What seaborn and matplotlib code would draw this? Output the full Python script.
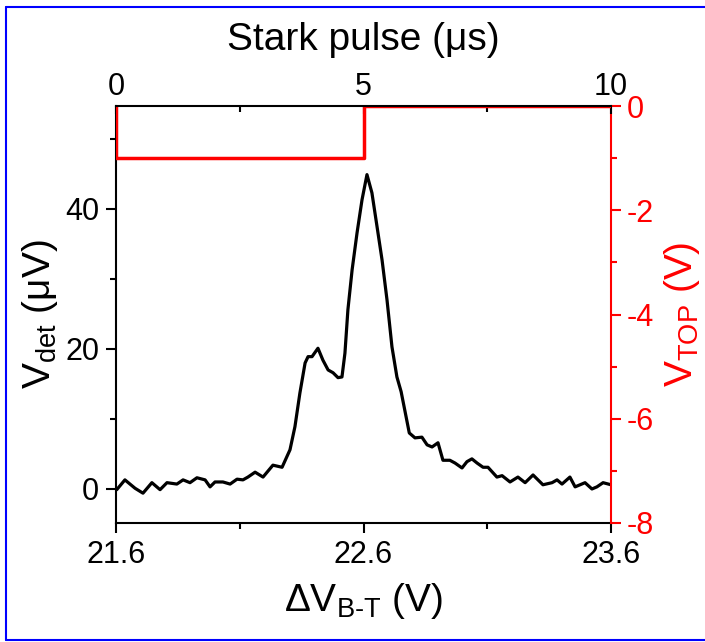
import matplotlib
matplotlib.use("Agg")
import matplotlib.pyplot as plt
from matplotlib.ticker import MultipleLocator, FixedLocator
from matplotlib.lines import Line2D
import seaborn as sns
import pandas as pd

# ---- data ----
bias_V = [21.603, 21.636, 21.677, 21.709, 21.745, 21.778, 21.806, 21.846, 21.871, 21.899,
          21.927, 21.960, 21.980, 22.000, 22.032, 22.061, 22.089, 22.113, 22.133, 22.162,
          22.194, 22.234, 22.271, 22.303, 22.323, 22.343, 22.364, 22.376, 22.392, 22.416,
          22.436, 22.457, 22.477, 22.497, 22.513, 22.525, 22.537, 22.554, 22.574, 22.594,
          22.614, 22.634, 22.655, 22.675, 22.695, 22.715, 22.735, 22.752, 22.766, 22.785,
          22.808, 22.836, 22.857, 22.877, 22.901, 22.921, 22.949, 22.970, 22.998, 23.018,
          23.038, 23.059, 23.083, 23.103, 23.139, 23.160, 23.192, 23.224, 23.253, 23.285,
          23.325, 23.362, 23.382, 23.402, 23.434, 23.455, 23.495, 23.523, 23.543, 23.568,
          23.600]
signal_uV = [-0.1, 1.3, 0.1, -0.6, 0.9, -0.1, 0.9, 0.7, 1.3, 0.9,
             1.6, 1.3, 0.3, 1.0, 1.0, 0.7, 1.4, 1.3, 1.7, 2.4,
             1.7, 3.4, 3.1, 5.6, 8.9, 13.7, 18.0, 18.9, 18.9, 20.1,
             18.4, 17.0, 16.6, 15.9, 16.0, 19.4, 25.6, 31.3, 36.6, 41.3,
             44.9, 42.3, 37.4, 32.7, 27.0, 20.3, 16.0, 13.9, 11.4, 8.0,
             7.3, 7.4, 6.3, 6.0, 6.6, 4.1, 4.1, 3.7, 3.0, 3.9,
             4.3, 3.7, 3.1, 3.1, 1.7, 1.9, 1.0, 1.7, 0.9, 2.0,
             0.6, 0.9, 1.3, 0.7, 1.7, 0.3, 0.9, 0.0, 0.3, 0.9,
             0.6]

pulse_time_us = [0, 0, 5, 5, 10]
pulse_V = [0, -1, -1, 0, 0]

bottom_ticks = [21.6, 22.6, 23.6]
bottom_minor = [22.1, 23.1]
left_ticks = [0, 20, 40]
right_ticks = [0, -2, -4, -6, -8]
top_ticks = [0, 5, 10]

sns.set_theme(style="ticks")
plt.rcParams["font.family"] = ["Liberation Sans", "DejaVu Sans"]
plt.rcParams["mathtext.fontset"] = "custom"
plt.rcParams["mathtext.rm"] = "Liberation Sans"
for k in ["text.color", "axes.labelcolor", "xtick.color", "ytick.color", "axes.edgecolor"]:
    plt.rcParams[k] = "black"

TICK = 22
LAB = 28

fig = plt.figure(figsize=(7.05, 6.42), dpi=100)
ax = fig.add_axes([116/705, 1-523/642, (611-116)/705, (523-106)/642])

df = pd.DataFrame({"x": bias_V, "y": signal_uV})
sns.lineplot(data=df, x="x", y="y", ax=ax, color="black", lw=2.3, sort=False, estimator=None)
ax.set_xlim(21.6, 23.6)
ax.set_ylim(-4.86, 54.7)
ax.xaxis.set_major_locator(FixedLocator(bottom_ticks))
ax.xaxis.set_minor_locator(FixedLocator(bottom_minor))
ax.yaxis.set_major_locator(FixedLocator(left_ticks))
ax.yaxis.set_minor_locator(MultipleLocator(10))
ax.set_xticklabels(["21.6", "22.6", "23.6"])
ax.set_xlabel("ΔV$\\mathregular{_{B\\text{-}T}}$ (V)", fontsize=LAB, labelpad=8)
ax.set_ylabel("V$\\mathregular{_{det}}$ (μV)", fontsize=LAB, labelpad=4)
ax.tick_params(axis="both", which="major", direction="out", length=7, width=1.5,
               labelsize=TICK, color="black", labelcolor="black", pad=5)
ax.tick_params(axis="both", which="minor", direction="out", length=4, width=1.5, color="black")
for s in ["left", "bottom"]:
    ax.spines[s].set_linewidth(1.5)
    ax.spines[s].set_color("black")
ax.spines["top"].set_visible(False)
ax.spines["right"].set_visible(False)

ax2 = ax.twinx()
ax2.set_ylim(-8, 0)
ax2.yaxis.set_major_locator(FixedLocator(right_ticks))
ax2.yaxis.set_minor_locator(MultipleLocator(1))
ax2.set_yticklabels(["0", "-2", "-4", "-6", "-8"])
ax2.tick_params(axis="y", which="major", direction="out", length=7, width=1.5,
                labelsize=TICK, colors="red", pad=4)
ax2.tick_params(axis="y", which="minor", direction="out", length=4, width=1.5, color="red")
ax2.set_ylabel("V$\\mathregular{_{TOP}}$ (V)", fontsize=LAB, color="red", labelpad=6)
ax2.spines["right"].set_color("red")
ax2.spines["right"].set_linewidth(1.5)
for s in ["top", "left", "bottom"]:
    ax2.spines[s].set_visible(False)

ax3 = ax2.twiny()
pdf = pd.DataFrame({"t": pulse_time_us, "v": pulse_V})
sns.lineplot(data=pdf, x="t", y="v", ax=ax3, color="red", lw=2.5, sort=False, estimator=None)
ax3.set_xlim(0, 10)
ax3.set_ylim(-8, 0)
ax3.xaxis.set_major_locator(FixedLocator(top_ticks))
ax3.xaxis.set_minor_locator(MultipleLocator(2.5))
ax3.set_xticklabels(["0", "5", "10"])
ax3.tick_params(axis="x", which="major", direction="in", length=6, width=1.5,
                labelsize=TICK, color="black", labelcolor="black", pad=3)
ax3.tick_params(axis="x", which="minor", direction="in", length=4, width=1.5, color="black")
ax3.set_xlabel("Stark pulse (μs)", fontsize=LAB, labelpad=16)
ax3.spines["top"].set_color("black")
ax3.spines["top"].set_linewidth(1.5)
for s in ["left", "bottom", "right"]:
    ax3.spines[s].set_visible(False)
ax3.set_ylabel("")
ax3.tick_params(axis="y", left=False, right=False, labelleft=False, labelright=False)

# blue frame
for xs, ys in [([6/705, 1.01], [1-7/642, 1-7/642]),
               ([6/705, 6/705], [1-7/642, 1-640/642]),
               ([6/705, 1.01], [1-640/642, 1-640/642])]:
    fig.add_artist(Line2D(xs, ys, transform=fig.transFigure, color="blue", lw=1.5))

fig.savefig("out.png", dpi=100)
